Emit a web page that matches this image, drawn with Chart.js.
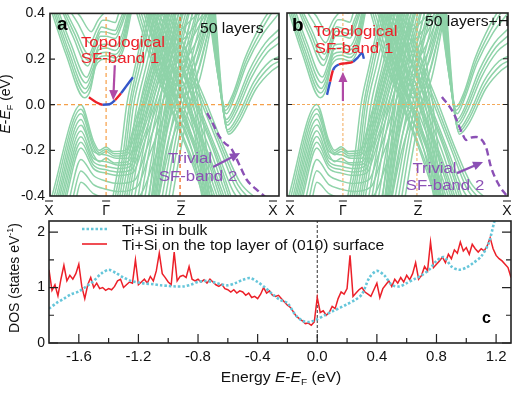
<!DOCTYPE html>
<html>
<head>
<meta charset="utf-8">
<script src="https://cdn.jsdelivr.net/npm/chart.js@4.4.0/dist/chart.umd.min.js"></script>
<style>
  html, body { margin: 0; padding: 0; background: #fff; }
  #wrap { position: relative; width: 526px; height: 394px; overflow: hidden; }
  canvas { position: absolute; }
</style>
</head>
<body>
<div id="wrap">
  <canvas id="bandA" width="283" height="218" style="left:0;top:0"></canvas>
  <canvas id="bandB" width="243" height="218" style="left:283px;top:0"></canvas>
  <canvas id="dos" width="526" height="194" style="left:0;top:200px"></canvas>
</div>
<script>
// ---- band structure data: [k, E] knots, k runs 0 (X) .. 1 (X) ----
const kTicksA = [0, 0.245, 0.568, 1];
const kTicksB = [0, 0.253, 0.588, 1];
const kTickLabels = ['X', 'Γ', 'Z', 'X'];
const eTicks = [-0.4, -0.2, 0, 0.2, 0.4];

// valence "Λ" subbands near the left crossing
const valenceLeft = [
  [[0.0,-0.43],[0.135,0.0],[0.19,-0.16],[0.215,-0.2],[0.245,-0.185],[0.275,-0.205],[0.33,-0.2],[0.37,-0.08],[0.45,0.2],[0.51,0.43]],
  [[0.01,-0.43],[0.135,-0.02],[0.19,-0.175],[0.215,-0.21],[0.245,-0.195],[0.28,-0.215],[0.332,-0.21],[0.375,-0.09],[0.455,0.19],[0.52,0.43]],
  [[0.02,-0.43],[0.135,-0.04],[0.19,-0.19],[0.215,-0.22],[0.245,-0.205],[0.28,-0.225],[0.335,-0.22],[0.38,-0.1],[0.46,0.18],[0.53,0.43]],
  [[0.028,-0.43],[0.135,-0.065],[0.19,-0.205],[0.245,-0.22],[0.29,-0.235],[0.338,-0.235],[0.385,-0.11],[0.465,0.165],[0.54,0.43]],
  [[0.035,-0.43],[0.135,-0.09],[0.19,-0.22],[0.215,-0.25],[0.245,-0.235],[0.28,-0.255],[0.34,-0.25],[0.39,-0.12],[0.47,0.15],[0.55,0.43]],
  [[0.043,-0.43],[0.135,-0.115],[0.19,-0.235],[0.245,-0.25],[0.3,-0.265],[0.345,-0.26],[0.395,-0.13],[0.475,0.135],[0.56,0.43]],
  [[0.05,-0.43],[0.135,-0.14],[0.19,-0.25],[0.245,-0.27],[0.3,-0.28],[0.35,-0.27],[0.4,-0.14],[0.48,0.12],[0.57,0.43]],
  [[0.058,-0.43],[0.135,-0.165],[0.19,-0.265],[0.245,-0.285],[0.3,-0.295],[0.355,-0.285],[0.405,-0.155],[0.49,0.11],[0.58,0.43]],
  [[0.065,-0.43],[0.135,-0.19],[0.19,-0.28],[0.245,-0.3],[0.3,-0.31],[0.36,-0.3],[0.41,-0.17],[0.5,0.1],[0.59,0.43]],
  [[0.08,-0.43],[0.135,-0.24],[0.19,-0.31],[0.245,-0.335],[0.3,-0.345],[0.37,-0.33],[0.42,-0.2],[0.51,0.07],[0.61,0.43]],
  [[0.095,-0.43],[0.135,-0.29],[0.19,-0.35],[0.245,-0.37],[0.3,-0.38],[0.38,-0.36],[0.43,-0.23],[0.53,0.05],[0.63,0.43]],
  [[0.11,-0.43],[0.135,-0.34],[0.19,-0.39],[0.245,-0.41],[0.3,-0.42],[0.39,-0.4],[0.45,-0.26],[0.55,0.03],[0.65,0.43]]
];

// conduction subbands: left wall, wavy bottoms around Gamma
const conductionLeft = [
  [[0.0,0.43],[0.07,0.22],[0.15,0.03],[0.175,0.06],[0.2,0.17],[0.245,0.2],[0.285,0.19],[0.32,0.24],[0.36,0.43]],
  [[0.008,0.43],[0.075,0.23],[0.152,0.05],[0.18,0.095],[0.205,0.195],[0.245,0.215],[0.285,0.205],[0.32,0.26],[0.355,0.43]],
  [[0.015,0.43],[0.08,0.24],[0.155,0.07],[0.185,0.13],[0.21,0.22],[0.245,0.23],[0.285,0.22],[0.32,0.28],[0.35,0.43]],
  [[0.022,0.43],[0.085,0.255],[0.157,0.095],[0.188,0.16],[0.212,0.24],[0.245,0.248],[0.285,0.238],[0.318,0.295],[0.348,0.43]],
  [[0.03,0.43],[0.09,0.27],[0.16,0.12],[0.19,0.19],[0.215,0.26],[0.245,0.265],[0.285,0.255],[0.315,0.31],[0.345,0.43]],
  [[0.045,0.43],[0.1,0.3],[0.165,0.17],[0.195,0.24],[0.22,0.3],[0.245,0.3],[0.285,0.29],[0.31,0.34],[0.34,0.43]],
  [[0.052,0.43],[0.105,0.315],[0.167,0.195],[0.198,0.265],[0.222,0.32],[0.245,0.318],[0.285,0.308],[0.308,0.355],[0.335,0.43]],
  [[0.06,0.43],[0.11,0.33],[0.17,0.22],[0.2,0.29],[0.225,0.34],[0.245,0.335],[0.285,0.325],[0.305,0.37],[0.33,0.43]],
  [[0.075,0.43],[0.12,0.36],[0.175,0.27],[0.205,0.33],[0.23,0.37],[0.245,0.37],[0.285,0.36],[0.3,0.4],[0.32,0.45]],
  [[0.09,0.43],[0.13,0.39],[0.18,0.32],[0.21,0.37],[0.245,0.405],[0.28,0.4],[0.31,0.45]]
];

// bulk bands rising towards Z (lower left -> upper right)
const upArm = [
  [[0.27,-0.43],[0.31,-0.2],[0.335,0.0],[0.37,0.16],[0.43,0.43]],
  [[0.28,-0.43],[0.32,-0.21],[0.347,0.0],[0.382,0.17],[0.44,0.43]],
  [[0.29,-0.43],[0.33,-0.2],[0.355,0.0],[0.39,0.16],[0.45,0.43]],
  [[0.3,-0.43],[0.34,-0.19],[0.367,0.01],[0.405,0.17],[0.465,0.43]],
  [[0.31,-0.43],[0.35,-0.2],[0.38,0.0],[0.42,0.17],[0.48,0.43]],
  [[0.32,-0.43],[0.36,-0.21],[0.393,0.0],[0.435,0.18],[0.495,0.43]],
  [[0.33,-0.43],[0.37,-0.2],[0.405,0.0],[0.45,0.18],[0.51,0.43]],
  [[0.34,-0.43],[0.38,-0.19],[0.418,0.01],[0.465,0.19],[0.525,0.43]],
  [[0.35,-0.43],[0.39,-0.2],[0.43,0.0],[0.48,0.19],[0.54,0.43]],
  [[0.365,-0.43],[0.405,-0.21],[0.445,-0.01],[0.495,0.19],[0.555,0.43]],
  [[0.38,-0.43],[0.42,-0.2],[0.46,0.0],[0.51,0.2],[0.57,0.43]],
  [[0.395,-0.43],[0.435,-0.19],[0.475,0.01],[0.525,0.2],[0.585,0.43]],
  [[0.41,-0.43],[0.45,-0.2],[0.49,0.0],[0.54,0.2],[0.6,0.43]],
  [[0.425,-0.43],[0.465,-0.21],[0.505,-0.01],[0.555,0.19],[0.615,0.43]],
  [[0.44,-0.43],[0.48,-0.2],[0.52,0.0],[0.57,0.2],[0.63,0.43]],
  [[0.455,-0.43],[0.495,-0.19],[0.535,0.01],[0.585,0.21],[0.645,0.43]],
  [[0.47,-0.43],[0.51,-0.2],[0.55,0.0],[0.6,0.2],[0.66,0.43]],
  [[0.485,-0.43],[0.525,-0.21],[0.565,-0.01],[0.615,0.19],[0.675,0.43]],
  [[0.5,-0.43],[0.54,-0.2],[0.58,0.0],[0.63,0.2],[0.69,0.43]],
  [[0.515,-0.43],[0.555,-0.19],[0.595,0.01],[0.645,0.21],[0.705,0.43]],
  [[0.53,-0.43],[0.57,-0.2],[0.61,0.0],[0.66,0.2],[0.72,0.43]]
];

// bulk bands falling from Z side (upper left -> lower right)
const downArm = [
  [[0.37,0.43],[0.44,0.2],[0.52,0.0],[0.6,-0.2],[0.68,-0.43]],
  [[0.38,0.43],[0.452,0.19],[0.53,-0.01],[0.61,-0.21],[0.69,-0.43]],
  [[0.39,0.43],[0.46,0.2],[0.54,0.0],[0.62,-0.2],[0.7,-0.43]],
  [[0.4,0.43],[0.472,0.21],[0.55,0.01],[0.63,-0.19],[0.71,-0.43]],
  [[0.41,0.43],[0.48,0.2],[0.56,0.0],[0.64,-0.2],[0.72,-0.43]],
  [[0.42,0.43],[0.492,0.19],[0.57,-0.01],[0.65,-0.21],[0.73,-0.43]],
  [[0.43,0.43],[0.5,0.2],[0.58,0.0],[0.66,-0.2],[0.74,-0.43]],
  [[0.44,0.43],[0.512,0.21],[0.59,0.01],[0.67,-0.19],[0.75,-0.43]],
  [[0.45,0.43],[0.52,0.2],[0.6,0.0],[0.68,-0.2],[0.76,-0.43]],
  [[0.46,0.43],[0.532,0.19],[0.61,-0.01],[0.69,-0.21],[0.77,-0.43]],
  [[0.47,0.43],[0.54,0.2],[0.62,0.0],[0.7,-0.2],[0.78,-0.43]],
  [[0.48,0.43],[0.552,0.21],[0.63,0.01],[0.71,-0.19],[0.79,-0.43]],
  [[0.49,0.43],[0.56,0.2],[0.64,0.0],[0.72,-0.2],[0.8,-0.43]],
  [[0.5,0.43],[0.574,0.19],[0.652,-0.01],[0.732,-0.21],[0.8,-0.38],[0.84,-0.43]],
  [[0.51,0.43],[0.585,0.2],[0.665,0.0],[0.745,-0.2],[0.81,-0.36],[0.86,-0.43]],
  [[0.52,0.43],[0.595,0.2],[0.675,0.0],[0.755,-0.2],[0.82,-0.35],[0.88,-0.42],[0.92,-0.45]],
  [[0.53,0.43],[0.605,0.2],[0.686,0.0],[0.765,-0.2],[0.83,-0.34],[0.9,-0.41],[0.95,-0.45]]
];

// caps and cups centred on Z
const zCaps = [
  [[0.43,-0.43],[0.495,0.1],[0.568,0.35],[0.645,0.1],[0.71,-0.43]],
  [[0.44,-0.43],[0.5,0.05],[0.568,0.28],[0.64,0.05],[0.7,-0.43]],
  [[0.445,-0.43],[0.505,0.01],[0.568,0.22],[0.635,0.01],[0.695,-0.43]],
  [[0.45,-0.43],[0.51,-0.02],[0.568,0.17],[0.63,-0.02],[0.69,-0.43]],
  [[0.455,-0.43],[0.512,-0.06],[0.568,0.11],[0.627,-0.06],[0.685,-0.43]],
  [[0.46,-0.43],[0.515,-0.1],[0.568,0.05],[0.625,-0.1],[0.68,-0.43]],
  [[0.465,-0.43],[0.518,-0.15],[0.568,-0.02],[0.622,-0.15],[0.675,-0.43]],
  [[0.47,-0.43],[0.52,-0.2],[0.568,-0.08],[0.62,-0.2],[0.67,-0.43]]
];
const zCups = [
  [[0.42,0.43],[0.49,0.1],[0.568,-0.02],[0.65,0.1],[0.72,0.43]],
  [[0.425,0.43],[0.495,0.14],[0.568,0.03],[0.645,0.14],[0.715,0.43]],
  [[0.43,0.43],[0.5,0.18],[0.568,0.08],[0.64,0.18],[0.71,0.43]],
  [[0.435,0.43],[0.505,0.22],[0.568,0.13],[0.635,0.22],[0.705,0.43]],
  [[0.44,0.43],[0.51,0.26],[0.568,0.18],[0.63,0.26],[0.7,0.43]],
  [[0.445,0.43],[0.515,0.3],[0.568,0.23],[0.625,0.3],[0.695,0.43]],
  [[0.45,0.43],[0.52,0.33],[0.568,0.28],[0.62,0.33],[0.69,0.43]],
  [[0.46,0.43],[0.525,0.37],[0.568,0.33],[0.615,0.37],[0.68,0.43]]
];

// U-shaped subbands between Z and X
const valleyRight = [
  [[0.69,0.43],[0.73,0.15],[0.765,-0.01],[0.8,0.05],[0.85,0.2],[0.92,0.35],[0.97,0.43]],
  [[0.695,0.43],[0.732,0.135],[0.767,-0.025],[0.802,0.04],[0.855,0.19],[0.925,0.33],[0.985,0.43]],
  [[0.7,0.43],[0.735,0.12],[0.77,-0.04],[0.805,0.03],[0.86,0.18],[0.93,0.31],[1.0,0.4]],
  [[0.705,0.43],[0.74,0.09],[0.77,-0.065],[0.81,0.0],[0.87,0.15],[0.94,0.27],[1.0,0.33]],
  [[0.707,0.43],[0.742,0.075],[0.772,-0.078],[0.812,-0.015],[0.875,0.135],[0.945,0.25],[1.0,0.3]],
  [[0.71,0.43],[0.745,0.06],[0.775,-0.09],[0.815,-0.03],[0.88,0.12],[0.95,0.23],[1.0,0.27]],
  [[0.715,0.43],[0.75,0.03],[0.775,-0.11],[0.82,-0.05],[0.89,0.1],[0.96,0.19],[1.0,0.21]],
  [[0.717,0.43],[0.752,0.015],[0.777,-0.12],[0.822,-0.065],[0.895,0.085],[0.965,0.17],[1.0,0.19]],
  [[0.72,0.43],[0.755,0.0],[0.78,-0.13],[0.825,-0.08],[0.9,0.07],[0.97,0.15],[1.0,0.17]]
];

// surface bands
const surf1A = [[0.17,0.033],[0.2,0.012],[0.23,0.0],[0.26,0.002],[0.284,0.02],[0.31,0.05],[0.336,0.085],[0.362,0.12]];
const surf1AColors = ['red','red','blue','blue','red','blue','blue'];
const surf1B = [[0.181,0.042],[0.195,0.1],[0.208,0.15],[0.235,0.175],[0.263,0.18],[0.299,0.187],[0.32,0.205],[0.34,0.225],[0.348,0.2]];
const surf1BColors = ['blue','red','blue','red','red','blue','blue','blue'];
const surf2A = [[0.686,-0.037],[0.71,-0.08],[0.74,-0.14],[0.765,-0.17],[0.79,-0.19],[0.83,-0.27],[0.86,-0.33],[0.9,-0.37],[0.96,-0.42]];
const surf2B = [[0.701,0.033],[0.751,-0.033],[0.796,-0.133],[0.81,-0.155],[0.83,-0.145],[0.855,-0.142],[0.9,-0.186],[0.923,-0.273],[0.959,-0.352],[0.995,-0.4]];

// ---- DOS data ----
const energyTicks = [-1.6, -1.2, -0.8, -0.4, 0, 0.4, 0.8, 1.2];
const energyMinor = [-1.4, -1.0, -0.6, -0.2, 0.2, 0.6, 1.0];
const dosTicks = [0, 1, 2];
const dosMinor = [0.5, 1.5];
const bulkStart = -1.8, bulkStep = 0.05;
const dosBulk = [0.62,0.72,0.80,0.88,0.93,1.02,1.12,1.25,1.32,1.26,1.18,1.12,1.09,1.07,1.06,1.04,1.03,1.02,1.02,1.05,
  1.10,1.12,1.10,1.06,1.04,1.08,1.14,1.17,1.10,1.00,0.88,0.78,0.72,0.52,0.40,0.38,0.43,0.50,0.57,0.63,
  0.70,0.77,0.88,1.18,1.30,1.22,1.05,1.02,1.08,1.15,1.22,1.32,1.48,1.55,1.38,1.32,1.36,1.45,1.56,1.80,
  2.30,2.60,2.90];
const surfStart = -1.8, surfStep = 0.02;
const dosSurface = [1.32,0.95,1.05,0.85,1.15,1.40,1.12,1.22,1.15,1.25,1.42,1.02,0.80,1.05,1.18,1.00,1.08,0.98,1.00,0.95,
  0.98,0.96,1.02,1.12,1.15,1.00,1.05,1.10,1.08,1.50,1.05,1.10,1.15,1.08,1.20,1.12,1.30,1.62,1.25,1.18,
  1.10,1.05,1.64,1.12,1.20,1.22,1.18,1.38,1.15,1.12,1.15,1.10,1.14,1.08,1.15,1.10,1.05,1.02,1.06,0.98,
  0.96,0.92,0.96,0.90,0.94,0.92,0.86,0.90,0.82,0.84,0.80,0.88,1.00,0.90,0.94,0.86,0.84,0.86,0.80,0.74,
  0.68,0.64,0.56,0.48,0.44,0.40,0.35,0.36,0.32,0.38,0.82,0.55,0.58,0.50,0.55,0.66,0.62,0.80,0.92,0.88,
  0.98,1.58,0.84,0.90,0.96,1.00,0.92,0.88,0.84,0.96,1.08,0.82,0.98,1.05,1.12,1.02,1.15,1.08,1.18,1.10,
  1.22,1.14,1.25,1.45,1.15,1.22,1.38,1.30,1.82,1.36,1.42,1.48,1.55,1.45,1.60,1.52,1.68,1.62,1.82,1.66,
  1.72,1.60,1.78,1.70,1.64,1.70,1.66,1.75,1.90,1.70,1.58,1.52,1.48,1.42,1.36,1.18];

// ---- styling ----
const FONT = "'Liberation Sans', Arial, sans-serif";
const GREEN = '#8fd3a9';
const COLORS = { red: '#ec2029', blue: '#3557c9' };
const PURPLE = '#8b50b5';
const MAGENTA = '#b04aa6';
const CYAN = '#66c6da';
const SX = 1.12; // the original figure is slightly wide
const C_TOP = 200; // top of the DOS canvas on the page

function text(ctx, str, x, y, font, color, align, sx) {
  ctx.save();
  ctx.font = font;
  ctx.fillStyle = color;
  ctx.textBaseline = 'alphabetic';
  ctx.textAlign = 'left';
  const w = ctx.measureText(str).width * sx;
  ctx.translate(align === 'center' ? x - w / 2 : x, y);
  ctx.scale(sx, 1);
  ctx.fillText(str, 0, 0);
  ctx.restore();
}

// runs of mixed styled text, centred at (cx, baseline cy), optionally rotated
function runs(ctx, parts, cx, cy, rotate, sx) {
  ctx.save();
  ctx.translate(cx, cy);
  if (rotate) ctx.rotate(-Math.PI / 2);
  ctx.scale(sx, 1);
  ctx.fillStyle = '#111';
  ctx.textBaseline = 'alphabetic';
  ctx.textAlign = 'left';
  let w = 0;
  parts.forEach(p => { ctx.font = p.font; w += ctx.measureText(p.t).width; });
  let xx = -w / 2;
  parts.forEach(p => { ctx.font = p.font; ctx.fillText(p.t, xx, p.dy || 0); xx += ctx.measureText(p.t).width; });
  ctx.restore();
}

function arrow(ctx, x0, y0, x1, y1, color) {
  const a = Math.atan2(y1 - y0, x1 - x0), h = 10, hw = 4.5;
  const c = Math.cos(a), s = Math.sin(a);
  ctx.strokeStyle = color; ctx.fillStyle = color; ctx.lineWidth = 2.2;
  ctx.beginPath(); ctx.moveTo(x0, y0); ctx.lineTo(x1 - h * 0.7 * c, y1 - h * 0.7 * s); ctx.stroke();
  ctx.beginPath();
  ctx.moveTo(x1, y1);
  ctx.lineTo(x1 - h * c + hw * s, y1 - h * s - hw * c);
  ctx.lineTo(x1 - h * c - hw * s, y1 - h * s + hw * c);
  ctx.closePath(); ctx.fill();
}

function bandDecor(p) {
  return {
    id: 'decor' + p.letter,
    afterDatasetsDraw(chart) {
      const { ctx, chartArea: a, scales: { x, y } } = chart;
      const X = k => x.getPixelForValue(k), Y = e => y.getPixelForValue(e);
      ctx.save();
      ctx.strokeStyle = '#222';
      ctx.lineWidth = 1.6;
      ctx.strokeRect(a.left, a.top, a.right - a.left, a.bottom - a.top);
      ctx.lineWidth = 1.2;
      ctx.beginPath();
      [-0.2, 0, 0.2].forEach(e => {
        ctx.moveTo(a.left, Y(e)); ctx.lineTo(a.left + 5, Y(e));
        ctx.moveTo(a.right, Y(e)); ctx.lineTo(a.right - 5, Y(e));
      });
      ctx.stroke();

      // high-symmetry labels with overbars
      p.ticks.forEach((k, i) => {
        const cx = X(k) + p.shift[i];
        ctx.font = '14px ' + FONT;
        ctx.fillStyle = '#111';
        ctx.textAlign = 'center';
        ctx.textBaseline = 'alphabetic';
        ctx.fillText(kTickLabels[i], cx, 215);
        ctx.strokeStyle = '#333';
        ctx.lineWidth = 1.2;
        ctx.beginPath(); ctx.moveTo(cx - 4, 201); ctx.lineTo(cx + 4, 201); ctx.stroke();
      });

      arrow(ctx, X(p.arrow1[0]), Y(p.arrow1[1]), X(p.arrow1[2]), Y(p.arrow1[3]), MAGENTA);
      arrow(ctx, X(p.arrow2[0]), Y(p.arrow2[1]), X(p.arrow2[2]), Y(p.arrow2[3]), PURPLE);

      text(ctx, p.letter, p.letterPos[0], p.letterPos[1], 'bold 19px ' + FONT, '#000', 'left', 1);
      text(ctx, p.layers, p.layersPos[0], p.layersPos[1], '14px ' + FONT, '#111', 'left', SX);
      text(ctx, 'Topological', p.topo[0], p.topo[1], '15px ' + FONT, COLORS.red, 'center', SX);
      text(ctx, 'SF-band 1', p.topo[2], p.topo[3], '15px ' + FONT, COLORS.red, 'center', SX);
      text(ctx, 'Trivial', p.triv[0], p.triv[1], '15px ' + FONT, PURPLE, 'center', SX);
      text(ctx, 'SF-band 2', p.triv[2], p.triv[3], '15px ' + FONT, PURPLE, 'center', SX);

      if (p.yTitle) {
        runs(ctx, [
          { t: 'E', font: 'italic 14px ' + FONT },
          { t: '-', font: '14px ' + FONT },
          { t: 'E', font: 'italic 14px ' + FONT },
          { t: 'F', font: '9px ' + FONT, dy: 3 },
          { t: ' (eV)', font: '14px ' + FONT }
        ], 10, 104, true, 1);
      }
      ctx.restore();
    }
  };
}

const xy = pts => pts.map(([x, y]) => ({ x, y }));
const bulkFamilies = [valenceLeft, conductionLeft, upArm, downArm, zCaps, zCups, valleyRight];

function bandDatasets(ticks, guideColors, guideWidth, guideDash, surf1, surf1Colors, surf2) {
  const sets = bulkFamilies.flat().map(b => ({
    data: xy(b), borderColor: GREEN, borderWidth: 1.5,
    cubicInterpolationMode: 'monotone', order: 3
  }));
  const guides = [
    [[0, 0], [1, 0]],
    [[ticks[1], -0.4], [ticks[1], 0.4]],
    [[ticks[2], -0.4], [ticks[2], 0.4]]
  ];
  guides.forEach((g, i) => sets.push({
    data: xy(g), borderColor: guideColors[i], borderWidth: guideWidth,
    borderDash: guideDash, tension: 0, order: 2
  }));
  sets.push({
    data: xy(surf1), borderColor: COLORS.red, borderWidth: 2.4,
    cubicInterpolationMode: 'monotone', order: 1,
    segment: { borderColor: c => COLORS[surf1Colors[c.p0DataIndex]] }
  });
  sets.push({
    data: xy(surf2), borderColor: PURPLE, borderWidth: 2.4, borderDash: [7, 4],
    cubicInterpolationMode: 'monotone', order: 1
  });
  return sets;
}

function bandChart(id, datasets, showY, padding, decor) {
  return new Chart(document.getElementById(id), {
    type: 'line',
    data: { datasets },
    options: {
      responsive: false, animation: false, devicePixelRatio: 1,
      layout: { padding },
      plugins: { legend: { display: false }, tooltip: { enabled: false } },
      elements: { point: { radius: 0 } },
      scales: {
        x: { type: 'linear', min: 0, max: 1, display: false },
        y: {
          min: -0.4, max: 0.4, display: showY,
          grid: { display: false, drawTicks: false }, border: { display: false },
          afterBuildTicks: s => { s.ticks = eTicks.map(v => ({ value: v })); },
          ticks: {
            padding: 5, color: '#111', font: { family: FONT, size: 14 },
            callback: v => (Math.abs(v) < 1e-9 ? 0 : v).toFixed(1)
          },
          afterFit: s => { if (showY) s.width = 50; }
        }
      }
    },
    plugins: [decor]
  });
}

bandChart('bandA',
  bandDatasets(kTicksA, ['#f5a04a', '#f7a553', '#ef6a28'], 1.3, [4, 3], surf1A, surf1AColors, surf2A),
  true, { left: 0, right: 4, top: 13, bottom: 22 },
  bandDecor({
    letter: 'a', ticks: kTicksA, shift: [-1, 0, 1, -6], yTitle: true,
    letterPos: [57, 30], layers: '50 layers', layersPos: [200, 33],
    topo: [123, 47, 120, 63], triv: [190, 163, 198, 181],
    arrow1: [0.283, 0.173, 0.276, 0.02], arrow2: [0.712, -0.273, 0.83, -0.212]
  }));

bandChart('bandB',
  bandDatasets(kTicksB, ['#f3a95a', '#f3a95a', '#f3a95a'], 1.0, [3, 2], surf1B, surf1BColors, surf2B),
  false, { left: 4, right: 18, top: 13, bottom: 22 },
  bandDecor({
    letter: 'b', ticks: kTicksB, shift: [3, 0, 1, -1], yTitle: false,
    letterPos: [9, 31], layers: '50 layers+H', layersPos: [142, 26],
    topo: [72.5, 36, 71, 53], triv: [151.5, 173, 162, 190],
    arrow1: [0.253, 0.015, 0.253, 0.142], arrow2: [0.769, -0.3, 0.887, -0.251]
  }));

// ---- DOS panel ----
const dosDecor = {
  id: 'dosDecor',
  afterDatasetsDraw(chart) {
    const { ctx, chartArea: a, scales: { x, y } } = chart;
    ctx.save();
    ctx.strokeStyle = '#222';
    ctx.lineWidth = 1.6;
    ctx.strokeRect(a.left, a.top, a.right - a.left, a.bottom - a.top);
    ctx.lineWidth = 1.2;
    ctx.beginPath();
    energyTicks.forEach(v => { const px = x.getPixelForValue(v); ctx.moveTo(px, a.bottom); ctx.lineTo(px, a.bottom - 9); });
    energyMinor.forEach(v => { const px = x.getPixelForValue(v); ctx.moveTo(px, a.bottom); ctx.lineTo(px, a.bottom - 5); });
    dosTicks.forEach(v => {
      const py = y.getPixelForValue(v);
      ctx.moveTo(a.left, py); ctx.lineTo(a.left + 9, py);
      ctx.moveTo(a.right, py); ctx.lineTo(a.right - 9, py);
    });
    dosMinor.forEach(v => {
      const py = y.getPixelForValue(v);
      ctx.moveTo(a.left, py); ctx.lineTo(a.left + 5, py);
      ctx.moveTo(a.right, py); ctx.lineTo(a.right - 5, py);
    });
    ctx.stroke();

    // legend
    ctx.lineWidth = 2.6;
    ctx.strokeStyle = CYAN;
    ctx.setLineDash([2.5, 2]);
    ctx.beginPath(); ctx.moveTo(82, 229 - C_TOP); ctx.lineTo(107, 229 - C_TOP); ctx.stroke();
    ctx.setLineDash([]);
    ctx.lineWidth = 1.6;
    ctx.strokeStyle = COLORS.red;
    ctx.beginPath(); ctx.moveTo(82, 244 - C_TOP); ctx.lineTo(107, 244 - C_TOP); ctx.stroke();
    text(ctx, 'Ti+Si in bulk', 122, 235 - C_TOP, '14px ' + FONT, '#111', 'left', SX);
    text(ctx, 'Ti+Si on the top layer of (010) surface', 122, 250 - C_TOP, '14px ' + FONT, '#111', 'left', SX);

    text(ctx, 'c', 482, 323 - C_TOP, 'bold 16px ' + FONT, '#000', 'left', 1);

    runs(ctx, [
      { t: 'Energy ', font: '14px ' + FONT },
      { t: 'E', font: 'italic 14px ' + FONT },
      { t: '-', font: '14px ' + FONT },
      { t: 'E', font: 'italic 14px ' + FONT },
      { t: 'F', font: '9px ' + FONT, dy: 3 },
      { t: ' (eV)', font: '14px ' + FONT }
    ], 281, 382 - C_TOP, false, SX);
    runs(ctx, [
      { t: 'DOS (states eV', font: '14px ' + FONT },
      { t: '-1', font: '9px ' + FONT, dy: -6 },
      { t: ')', font: '14px ' + FONT }
    ], 19, 278 - C_TOP, true, 1);
    ctx.restore();
  }
};

new Chart(document.getElementById('dos'), {
  type: 'line',
  data: {
    datasets: [
      {
        data: dosBulk.map((v, i) => ({ x: bulkStart + i * bulkStep, y: v })),
        borderColor: CYAN, borderWidth: 2.6, borderDash: [2.5, 2], tension: 0.3, order: 1
      },
      {
        data: dosSurface.map((v, i) => ({ x: surfStart + i * surfStep, y: v })),
        borderColor: COLORS.red, borderWidth: 1.5, tension: 0, order: 2
      },
      {
        data: [{ x: 0, y: 0 }, { x: 0, y: 2.2 }],
        borderColor: '#333', borderWidth: 1, borderDash: [3, 2], tension: 0, order: 3
      }
    ]
  },
  options: {
    responsive: false, animation: false, devicePixelRatio: 1,
    layout: { padding: { left: 0, right: 15, top: 21, bottom: 0 } },
    plugins: { legend: { display: false }, tooltip: { enabled: false } },
    elements: { point: { radius: 0 } },
    scales: {
      x: {
        type: 'linear', min: -1.8, max: 1.3,
        grid: { display: false, drawTicks: false }, border: { display: false },
        afterBuildTicks: s => { s.ticks = energyTicks.map(v => ({ value: v })); },
        ticks: {
          padding: 5, color: '#111', font: { family: FONT, size: 15 }, maxRotation: 0, autoSkip: false,
          callback: v => (Math.abs(v) < 1e-9 ? 0 : v).toFixed(1)
        },
        afterFit: s => { s.height = 51; }
      },
      y: {
        min: 0, max: 2.2,
        grid: { display: false, drawTicks: false }, border: { display: false },
        afterBuildTicks: s => { s.ticks = dosTicks.map(v => ({ value: v })); },
        ticks: { padding: 4, color: '#111', font: { family: FONT, size: 14 } },
        afterFit: s => { s.width = 49; }
      }
    }
  },
  plugins: [dosDecor]
});
</script>
</body>
</html>
